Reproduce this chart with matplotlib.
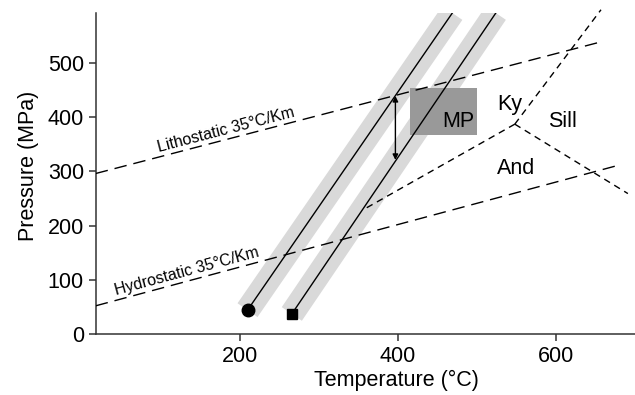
import matplotlib

matplotlib.use("Agg")
import matplotlib.pyplot as plt
from matplotlib.patches import Rectangle

plt.rcParams["font.family"] = ["Liberation Sans", "DejaVu Sans"]

# geotherms (T in degC, P in MPa)
litho_T = [18, 655]
litho_P = [296, 538]
hydro_T = [18, 676]
hydro_P = [52, 310]

# two P-T paths with their uncertainty bands
path1_T = [210, 469]
path1_P = [44, 592]
path2_T = [266, 524]
path2_P = [37, 592]

# aluminosilicate triple point and reactions
triple = (548, 387)
ky_sill_end = (657, 598)
and_ky_end = (356, 229)
and_sill_end = (691, 259)

# MP box (T range, P range)
mp_T = (415, 500)
mp_P = (367, 454)

# arrow between the paths
arrow_T = 397
arrow_P = (439, 321)

fig = plt.figure(figsize=(6.35, 3.95), dpi=100)
ax = fig.add_axes([0.1507, 0.1544, 0.8493, 0.8127])

band = dict(color="#d9d9d9", lw=17.5, solid_capstyle="butt", zorder=1)
ax.plot(path1_T, path1_P, **band)
ax.plot(path2_T, path2_P, **band)

ax.add_patch(Rectangle((mp_T[0], mp_P[0]), mp_T[1] - mp_T[0], mp_P[1] - mp_P[0],
                       color="#999999", lw=0, zorder=2))

ax.plot(path1_T, path1_P, color="black", lw=1.0, zorder=3)
ax.plot(path2_T, path2_P, color="black", lw=1.0, zorder=3)
ax.plot(path1_T[0], path1_P[0], "o", color="black", ms=9, zorder=4)
ax.plot(path2_T[0], path2_P[0], "s", color="black", ms=7.5, zorder=4)

long_dash = dict(color="black", lw=1.0, dashes=(9, 5), zorder=3)
ax.plot(litho_T, litho_P, **long_dash)
ax.plot(hydro_T, hydro_P, **long_dash)

short_dash = dict(color="black", lw=1.0, dashes=(4.8, 3.6), zorder=3)
for end in (ky_sill_end, and_ky_end, and_sill_end):
    ax.plot([triple[0], end[0]], [triple[1], end[1]], clip_on=False, **short_dash)

ax.annotate("", xy=(arrow_T, arrow_P[1]), xytext=(arrow_T, arrow_P[0]),
            arrowprops=dict(arrowstyle="<|-|>", color="black", lw=1.0,
                            mutation_scale=8, shrinkA=0, shrinkB=0), zorder=5)

ax.text(183, 376, "Lithostatic 35°C/Km", fontsize=11.5, rotation=14.6,
        ha="center", va="center")
ax.text(133, 115, "Hydrostatic 35°C/Km", fontsize=11.5, rotation=15.1,
        ha="center", va="center")
ax.text(477, 382, "MP", fontsize=15.5, ha="center", va="baseline", zorder=5)
ax.text(542, 413, "Ky", fontsize=15.5, ha="center", va="baseline")
ax.text(608, 382, "Sill", fontsize=15.5, ha="center", va="baseline")
ax.text(550, 295, "And", fontsize=15.5, ha="center", va="baseline")

ax.set_xlim(18, 700)
ax.set_ylim(0, 592)
ax.set_xticks([200, 400, 600])
ax.set_yticks([0, 100, 200, 300, 400, 500])
ax.tick_params(labelsize=15.5, length=5, width=1.1, color="#333333")
ax.set_xlabel("Temperature (°C)", fontsize=15.5, x=0.557, labelpad=2)
ax.set_ylabel("Pressure (MPa)", fontsize=15.5, y=0.525, labelpad=6)
for side in ("top", "right"):
    ax.spines[side].set_visible(False)
for side in ("left", "bottom"):
    ax.spines[side].set_linewidth(1.1)
    ax.spines[side].set_color("#333333")

fig.savefig("out.png", dpi=100)
